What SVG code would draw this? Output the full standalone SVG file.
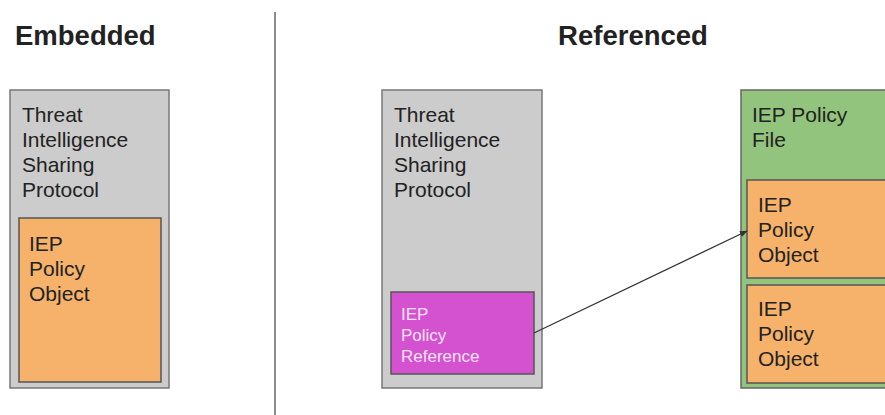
<svg xmlns="http://www.w3.org/2000/svg" width="885" height="415" viewBox="0 0 885 415">
<style>
text{font-family:"Liberation Sans",Arial,sans-serif;fill:#222}
.title{font-size:27.5px;font-weight:bold}
.lbl{font-size:21px}
.sm{font-size:17px;fill:#fbe3fa}
.gray{fill:#cccccc;stroke:#777;stroke-width:1.5}
.orange{fill:#f6b26b;stroke:#555;stroke-width:1.5}
.mag{fill:#d452d0;stroke:#555;stroke-width:1.5}
.green{fill:#93c47d;stroke:#666;stroke-width:1.5}
</style>
<defs>
<marker id="ah" viewBox="0 0 10 10" refX="9" refY="5" markerWidth="6" markerHeight="6" orient="auto">
<path d="M0,1 L10,5 L0,9 z" fill="#333"/>
</marker>
</defs>
<rect width="885" height="415" fill="#fff"/>
<g id="titles">
<text class="title" x="15" y="45">Embedded</text>
<text class="title" x="633" y="45" text-anchor="middle">Referenced</text>
</g>
<line x1="275" y1="12" x2="275" y2="415" stroke="#666" stroke-width="1.5"/>
<g id="tisp-embedded">
<rect class="gray" x="10" y="90" width="159" height="298"/>
<text class="lbl" x="22" y="122">Threat</text>
<text class="lbl" x="22" y="147">Intelligence</text>
<text class="lbl" x="22" y="172">Sharing</text>
<text class="lbl" x="22" y="197">Protocol</text>
</g>
<g id="iep-object-embedded">
<rect class="orange" x="19" y="218" width="142" height="164"/>
<text class="lbl" x="29" y="251">IEP</text>
<text class="lbl" x="29" y="276">Policy</text>
<text class="lbl" x="29" y="301">Object</text>
</g>
<g id="tisp-referenced">
<rect class="gray" x="382" y="90" width="160" height="298"/>
<text class="lbl" x="394" y="122">Threat</text>
<text class="lbl" x="394" y="147">Intelligence</text>
<text class="lbl" x="394" y="172">Sharing</text>
<text class="lbl" x="394" y="197">Protocol</text>
</g>
<g id="iep-reference">
<rect class="mag" x="391" y="292" width="143" height="82"/>
<text class="sm" x="401" y="320">IEP</text>
<text class="sm" x="401" y="341">Policy</text>
<text class="sm" x="401" y="362">Reference</text>
</g>
<g id="iep-file">
<rect class="green" x="741" y="90" width="150" height="298"/>
<text class="lbl" x="752" y="122">IEP Policy</text>
<text class="lbl" x="752" y="147">File</text>
</g>
<g id="iep-object-1">
<rect class="orange" x="747" y="180" width="145" height="98"/>
<text class="lbl" x="758" y="212">IEP</text>
<text class="lbl" x="758" y="237">Policy</text>
<text class="lbl" x="758" y="262">Object</text>
</g>
<g id="iep-object-2">
<rect class="orange" x="747" y="285" width="145" height="98"/>
<text class="lbl" x="758" y="316">IEP</text>
<text class="lbl" x="758" y="341">Policy</text>
<text class="lbl" x="758" y="366">Object</text>
</g>
<g id="connectors">
<line x1="534" y1="333" x2="747" y2="231" stroke="#333" stroke-width="1.3" marker-end="url(#ah)"/>
</g>
</svg>
